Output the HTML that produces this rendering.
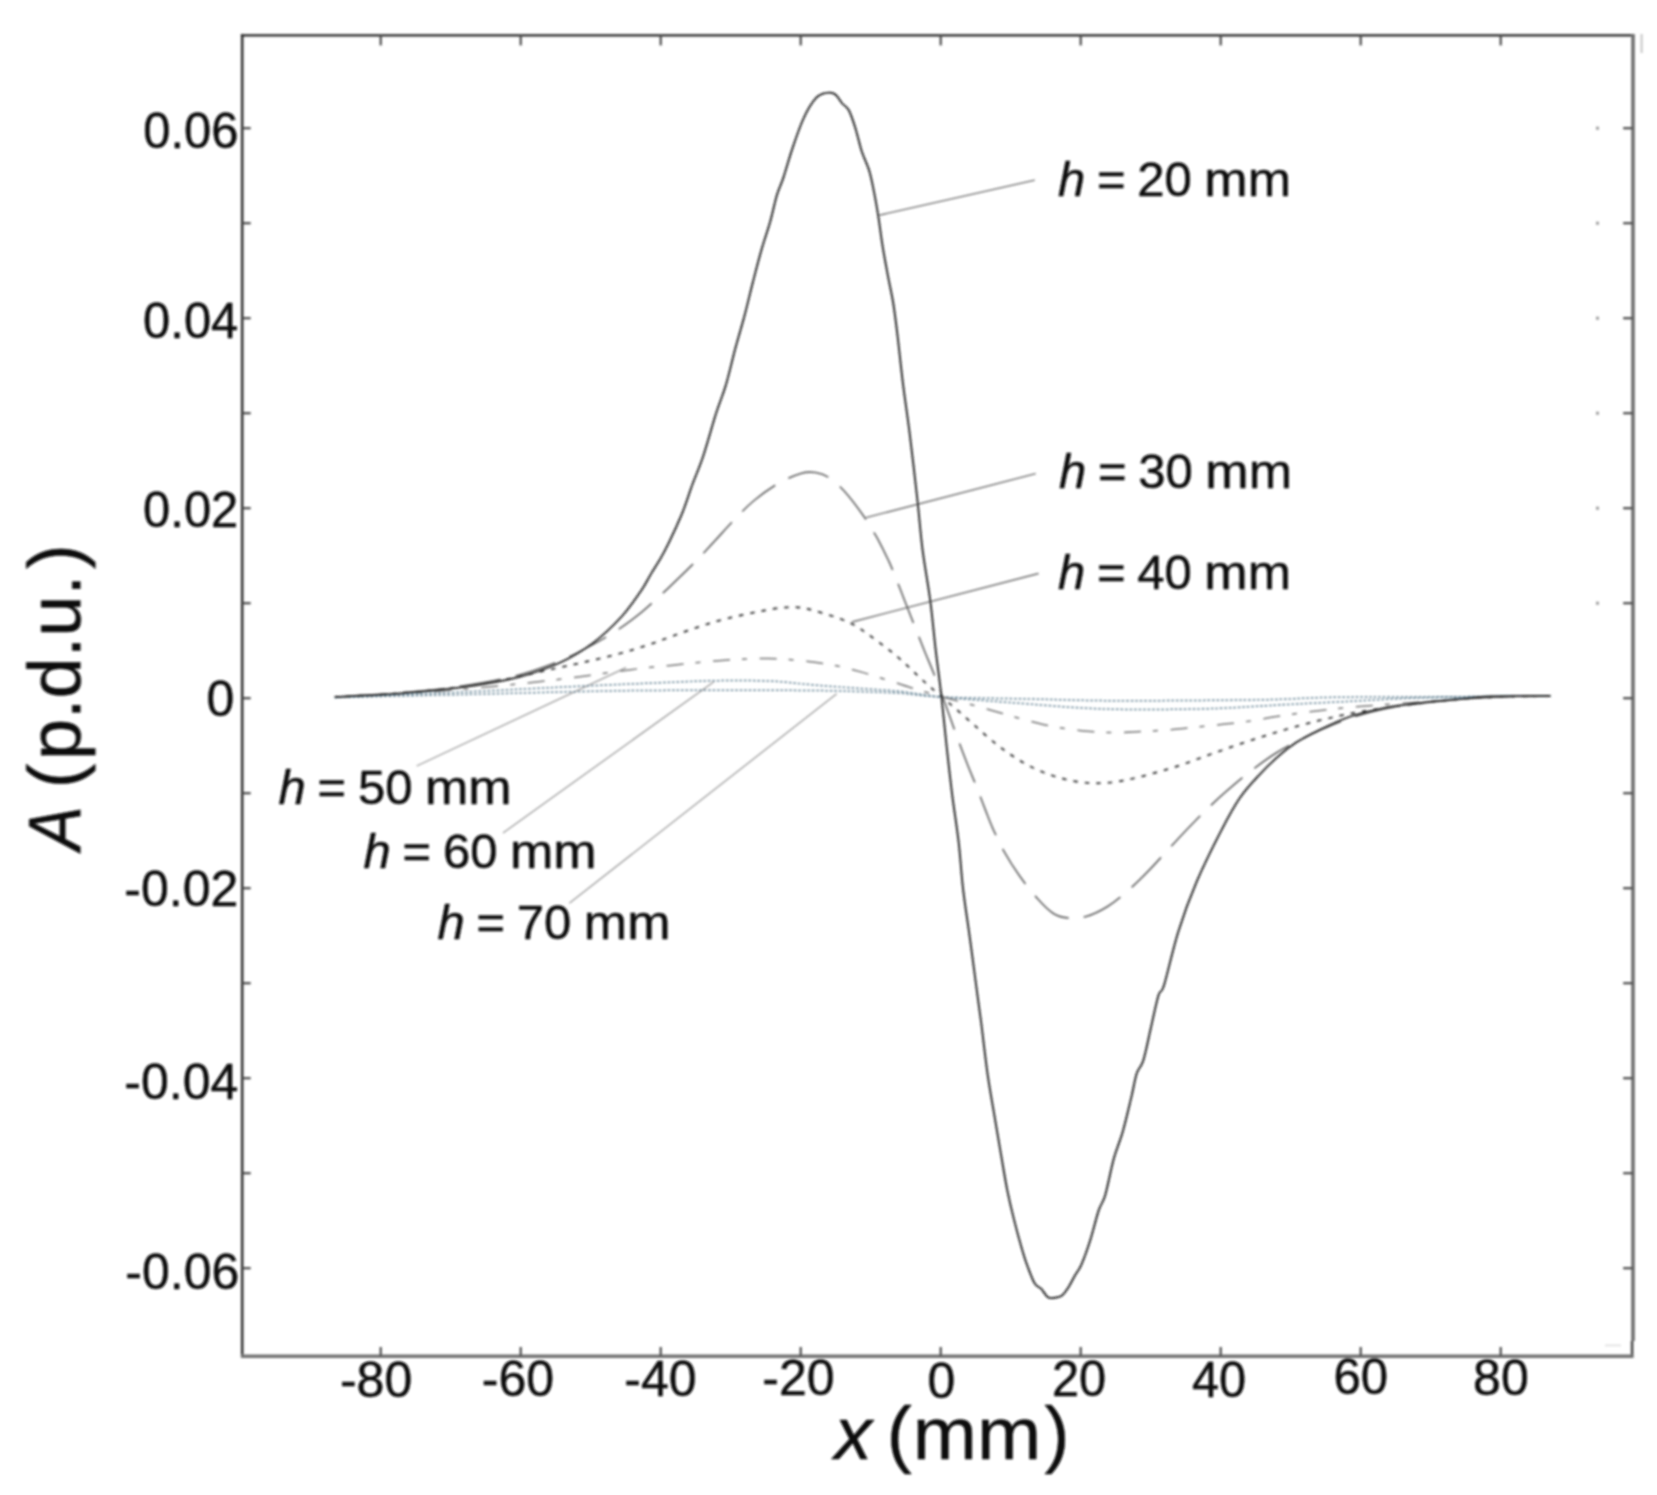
<!DOCTYPE html>
<html lang="en"><head><meta charset="utf-8"><title>A (p.d.u.) versus x (mm)</title>
<style>
html,body{margin:0;padding:0;background:#fff;}
body{width:1657px;height:1495px;overflow:hidden;}
svg{display:block;}
text{font-family:"Liberation Sans",Arial,Helvetica,sans-serif;fill:#101010;stroke:#101010;stroke-width:0.5px;stroke-linejoin:round;}
.tick{font-size:50px;}
.ann{font-size:49px;}
.axl{font-size:75px;}
.ayl{font-size:74px;}
.it{font-style:italic;}
</style></head><body>
<svg width="1657" height="1495" viewBox="0 0 1657 1495">
<defs><filter id="soft" x="-2%" y="-2%" width="104%" height="104%"><feGaussianBlur stdDeviation="0.9"/></filter></defs>
<rect x="0" y="0" width="1657" height="1495" fill="#ffffff"/>
<g filter="url(#soft)">
<g fill="#9c9c9c">
<rect x="1596" y="126.7" width="3" height="3"/>
<rect x="1596" y="221.7" width="3" height="3"/>
<rect x="1596" y="316.7" width="3" height="3"/>
<rect x="1596" y="411.7" width="3" height="3"/>
<rect x="1596" y="506.7" width="3" height="3"/>
<rect x="1596" y="601.7" width="3" height="3"/>
</g>
<line x1="1641.6" y1="34" x2="1641.6" y2="53" stroke="#c4c4c4" stroke-width="2"/>
<line x1="1605" y1="1345.4" x2="1621" y2="1345.4" stroke="#e4e4e4" stroke-width="2"/>
<g fill="none">
<line x1="242.2" y1="34.2" x2="242.2" y2="1357.5" stroke="#333333" stroke-width="2.6"/>
<line x1="240.9" y1="35.4" x2="1634.3" y2="35.4" stroke="#242424" stroke-width="2.4"/>
<line x1="1633.0" y1="34.2" x2="1633.0" y2="1341.0" stroke="#6e6e6e" stroke-width="3.6"/>
<line x1="1632.1" y1="1341.0" x2="1632.1" y2="1357.5" stroke="#4a4a4a" stroke-width="2.6"/>
<line x1="240.9" y1="1356.2" x2="1633.4" y2="1356.2" stroke="#727272" stroke-width="3.4"/>
</g>
<g stroke="#4a4a4a" stroke-width="2.2">
<line x1="380.7" y1="35.4" x2="380.7" y2="45.4"/>
<line x1="380.7" y1="1356.0" x2="380.7" y2="1347.0"/>
<line x1="520.7" y1="35.4" x2="520.7" y2="45.4"/>
<line x1="520.7" y1="1356.0" x2="520.7" y2="1347.0"/>
<line x1="660.7" y1="35.4" x2="660.7" y2="45.4"/>
<line x1="660.7" y1="1356.0" x2="660.7" y2="1347.0"/>
<line x1="800.7" y1="35.4" x2="800.7" y2="45.4"/>
<line x1="800.7" y1="1356.0" x2="800.7" y2="1347.0"/>
<line x1="940.7" y1="35.4" x2="940.7" y2="45.4"/>
<line x1="940.7" y1="1356.0" x2="940.7" y2="1347.0"/>
<line x1="1080.7" y1="35.4" x2="1080.7" y2="45.4"/>
<line x1="1080.7" y1="1356.0" x2="1080.7" y2="1347.0"/>
<line x1="1220.7" y1="35.4" x2="1220.7" y2="45.4"/>
<line x1="1220.7" y1="1356.0" x2="1220.7" y2="1347.0"/>
<line x1="1360.7" y1="35.4" x2="1360.7" y2="45.4"/>
<line x1="1360.7" y1="1356.0" x2="1360.7" y2="1347.0"/>
<line x1="1500.7" y1="35.4" x2="1500.7" y2="45.4"/>
<line x1="1500.7" y1="1356.0" x2="1500.7" y2="1347.0"/>
<line x1="242.2" y1="128.2" x2="250.7" y2="128.2"/>
<line x1="1632.7" y1="128.2" x2="1623.2" y2="128.2"/>
<line x1="242.2" y1="223.2" x2="250.7" y2="223.2"/>
<line x1="1632.7" y1="223.2" x2="1623.2" y2="223.2"/>
<line x1="242.2" y1="318.2" x2="250.7" y2="318.2"/>
<line x1="1632.7" y1="318.2" x2="1623.2" y2="318.2"/>
<line x1="242.2" y1="413.2" x2="250.7" y2="413.2"/>
<line x1="1632.7" y1="413.2" x2="1623.2" y2="413.2"/>
<line x1="242.2" y1="508.2" x2="250.7" y2="508.2"/>
<line x1="1632.7" y1="508.2" x2="1623.2" y2="508.2"/>
<line x1="242.2" y1="603.2" x2="250.7" y2="603.2"/>
<line x1="1632.7" y1="603.2" x2="1623.2" y2="603.2"/>
<line x1="242.2" y1="698.2" x2="250.7" y2="698.2"/>
<line x1="1632.7" y1="698.2" x2="1623.2" y2="698.2"/>
<line x1="242.2" y1="793.2" x2="250.7" y2="793.2"/>
<line x1="1632.7" y1="793.2" x2="1623.2" y2="793.2"/>
<line x1="242.2" y1="888.2" x2="250.7" y2="888.2"/>
<line x1="1632.7" y1="888.2" x2="1623.2" y2="888.2"/>
<line x1="242.2" y1="983.2" x2="250.7" y2="983.2"/>
<line x1="1632.7" y1="983.2" x2="1623.2" y2="983.2"/>
<line x1="242.2" y1="1078.2" x2="250.7" y2="1078.2"/>
<line x1="1632.7" y1="1078.2" x2="1623.2" y2="1078.2"/>
<line x1="242.2" y1="1173.2" x2="250.7" y2="1173.2"/>
<line x1="1632.7" y1="1173.2" x2="1623.2" y2="1173.2"/>
<line x1="242.2" y1="1268.2" x2="250.7" y2="1268.2"/>
<line x1="1632.7" y1="1268.2" x2="1623.2" y2="1268.2"/>
</g>
<g stroke="#6c6c6c" stroke-width="1.3" fill="none">
<line x1="878.5" y1="215.4" x2="1034.8" y2="180.2"/>
<line x1="866.1" y1="517.6" x2="1035.7" y2="473.7"/>
<line x1="852" y1="622" x2="1038.6" y2="573.5"/>
</g>
<g stroke="#9a9a9a" stroke-width="1.25" fill="none">
<line x1="626" y1="667.6" x2="416.7" y2="766"/>
<line x1="713.9" y1="681.7" x2="503" y2="832.9"/>
<line x1="836.7" y1="693.7" x2="569.3" y2="903.3"/>
</g>
<g fill="none" stroke-linejoin="round">
<path d="M334.8 697.5C356.2 697.0 421.7 695.5 463.0 694.5C504.3 693.5 550.0 692.2 582.6 691.5C615.2 690.8 622.5 690.6 658.7 690.4C694.9 690.2 766.9 690.2 800.0 690.4C833.1 690.6 840.6 691.0 857.4 691.5C874.2 692.0 886.9 692.4 900.9 693.3C914.9 694.2 919.8 696.0 941.3 697.0C962.8 698.0 1000.7 698.4 1030.0 699.0C1059.3 699.6 1078.7 700.6 1117.0 700.7C1155.3 700.8 1224.7 700.3 1260.0 699.8C1295.3 699.2 1302.8 697.9 1328.7 697.4C1354.7 696.9 1378.8 697.2 1415.7 697.0C1452.7 696.8 1528.0 696.1 1550.4 695.9" stroke="#5f7f91" stroke-width="1.5" stroke-dasharray="2.5 2"/>
<path d="M334.8 697.5C356.2 696.6 421.7 693.9 463.0 692.0C504.3 690.1 550.0 687.6 582.6 686.1C615.2 684.6 636.5 683.7 658.7 682.8C680.9 681.9 697.4 681.0 716.0 680.7C734.6 680.4 754.1 680.4 770.4 681.1C786.7 681.8 799.4 683.8 813.9 685.0C828.4 686.2 842.9 687.2 857.4 688.3C871.9 689.4 886.9 690.0 900.9 691.5C914.9 693.0 923.3 695.2 941.3 697.0C959.3 698.8 981.9 700.4 1008.7 702.4C1035.5 704.4 1070.3 707.8 1102.2 708.9C1134.1 710.0 1173.7 709.4 1200.0 708.9C1226.3 708.4 1245.8 706.8 1260.0 706.1C1274.2 705.4 1270.1 705.4 1285.2 704.6C1300.3 703.8 1328.7 702.4 1350.4 701.3C1372.2 700.2 1392.2 698.8 1415.7 698.0C1439.2 697.2 1469.2 696.9 1491.7 696.5C1514.2 696.1 1540.6 696.0 1550.4 695.9" stroke="#5f7f91" stroke-width="1.5" stroke-dasharray="2.5 2"/>
<path d="M334.8 697.0C345.4 696.5 377.0 695.2 398.4 693.9C419.7 692.6 441.8 690.9 463.0 689.1C484.2 687.3 506.1 685.2 525.5 683.1C545.0 681.1 563.9 678.8 579.9 676.8C595.8 674.7 609.6 672.5 621.4 670.9C633.2 669.3 641.7 668.3 650.6 667.3C659.6 666.4 666.8 665.9 674.8 665.0C682.8 664.2 690.6 663.2 698.4 662.5C706.3 661.7 714.0 661.0 721.8 660.4C729.6 659.8 737.4 659.3 745.2 659.0C752.9 658.7 760.6 658.3 768.3 658.4C776.0 658.5 783.6 659.1 791.4 659.7C799.1 660.3 807.0 661.2 814.7 662.2C822.5 663.3 829.9 664.4 837.8 666.0C845.8 667.7 854.0 670.0 862.6 672.4C871.2 674.9 880.6 677.9 889.5 680.7C898.3 683.4 906.3 686.3 915.5 689.1C924.7 691.9 934.5 694.7 944.6 697.5C954.7 700.3 966.6 703.3 976.0 705.9C985.4 708.5 993.2 710.8 1000.8 713.0C1008.4 715.2 1014.5 717.0 1021.7 719.0C1028.9 720.9 1036.5 723.0 1044.0 724.7C1051.6 726.3 1059.4 727.8 1067.1 728.9C1074.9 730.1 1082.7 730.9 1090.5 731.5C1098.3 732.1 1106.1 732.6 1113.8 732.6C1121.6 732.6 1129.3 732.2 1137.0 731.8C1144.7 731.4 1152.3 731.0 1160.1 730.4C1167.8 729.9 1175.6 729.3 1183.4 728.5C1191.2 727.8 1199.0 726.7 1206.8 725.9C1214.6 725.1 1222.5 724.5 1230.2 723.6C1238.0 722.7 1245.9 721.7 1253.6 720.5C1261.3 719.3 1268.8 717.8 1276.5 716.6C1284.2 715.4 1291.8 714.2 1299.6 713.2C1307.3 712.1 1315.2 711.1 1323.0 710.2C1330.8 709.3 1337.4 708.4 1346.1 707.6C1354.8 706.8 1363.4 706.2 1374.9 705.3C1386.4 704.5 1401.3 703.5 1414.8 702.4C1428.4 701.4 1442.5 700.2 1456.4 699.3C1470.3 698.4 1482.6 697.6 1498.2 697.0C1513.9 696.4 1541.7 696.1 1550.4 695.9" stroke="#777777" stroke-width="1.5" stroke-dasharray="17 12 5 12.7" stroke-dashoffset="-6.5"/>
<path d="M334.8 697.0C345.4 696.4 377.4 694.9 398.4 693.2C419.3 691.6 441.8 689.4 460.3 687.0C478.8 684.6 495.2 681.4 509.2 678.7C523.2 676.0 532.5 673.4 544.5 670.8C556.5 668.1 569.2 665.5 581.5 662.8C593.7 660.0 607.4 656.9 618.1 654.0C628.9 651.2 637.4 648.4 646.0 645.6C654.6 642.8 661.8 640.0 669.6 637.2C677.4 634.4 685.2 631.4 693.0 628.8C700.7 626.1 708.5 623.6 716.1 621.4C723.8 619.2 731.3 617.4 738.9 615.7C746.5 614.0 754.4 612.4 761.5 611.1C768.5 609.8 775.5 608.4 781.3 607.8C787.1 607.2 791.9 607.0 796.5 607.2C801.1 607.5 804.5 608.2 809.0 609.2C813.5 610.2 818.3 611.7 823.4 613.3C828.6 614.9 834.9 616.8 840.0 618.7C845.1 620.6 849.4 622.3 854.1 624.9C858.8 627.5 863.3 631.0 868.3 634.5C873.2 637.9 879.0 642.3 883.8 645.9C888.5 649.5 892.7 652.8 896.8 656.2C900.9 659.7 904.5 663.1 908.2 666.5C911.9 670.0 915.5 673.5 919.0 676.9C922.6 680.2 926.0 683.3 929.6 686.5C933.3 689.8 936.7 692.6 940.9 696.2C945.1 699.8 949.4 703.3 954.9 708.0C960.3 712.7 966.8 718.7 973.4 724.4C979.9 730.1 987.0 736.8 994.0 742.3C1001.0 747.9 1008.1 753.2 1015.5 757.8C1022.8 762.5 1030.4 766.7 1038.0 770.1C1045.6 773.5 1053.4 776.1 1061.2 778.2C1068.9 780.3 1076.8 781.8 1084.5 782.6C1092.3 783.3 1099.9 783.4 1107.6 782.8C1115.3 782.2 1122.9 780.7 1130.7 779.0C1138.5 777.4 1146.4 775.2 1154.3 773.0C1162.2 770.8 1170.2 768.5 1178.0 766.0C1185.8 763.4 1193.4 760.6 1201.1 757.8C1208.8 755.0 1216.5 752.1 1224.2 749.4C1231.9 746.7 1239.7 744.0 1247.4 741.5C1255.0 739.0 1262.5 736.5 1270.2 734.2C1277.8 731.8 1285.3 729.6 1293.1 727.4C1300.8 725.2 1309.0 723.1 1316.7 721.1C1324.5 719.2 1332.1 717.4 1339.5 715.8C1347.0 714.2 1353.6 712.9 1361.5 711.5C1369.3 710.2 1376.9 709.0 1386.5 707.6C1396.1 706.3 1407.3 704.8 1418.9 703.5C1430.6 702.1 1443.2 700.6 1456.4 699.5C1469.6 698.5 1482.6 697.6 1498.2 697.0C1513.9 696.4 1541.7 696.1 1550.4 695.9" stroke="#404040" stroke-width="1.9" stroke-dasharray="4.5 7"/>
<path d="M334.8 697.0C345.4 696.3 377.4 694.7 398.4 692.9C419.3 691.1 440.9 689.2 460.3 686.4C479.7 683.6 498.4 680.3 514.7 676.1C531.0 672.0 545.2 666.8 558.2 661.6C571.1 656.4 582.2 650.2 592.4 644.8C602.6 639.3 611.0 634.3 619.2 628.8C627.5 623.3 633.9 618.5 642.0 611.9C650.0 605.2 659.1 596.6 667.5 588.8C675.8 580.9 684.7 572.4 692.2 564.9C699.7 557.3 705.7 550.7 712.5 543.4C719.4 536.1 726.3 528.0 733.2 520.9C740.1 513.7 746.6 506.7 754.1 500.5C761.6 494.3 770.5 487.9 778.3 483.4C786.1 478.9 794.6 475.2 800.9 473.4C807.1 471.5 811.0 471.9 815.5 472.5C820.1 473.2 823.5 474.0 828.3 477.1C833.1 480.2 838.7 485.1 844.4 491.2C850.0 497.4 856.6 506.1 862.0 513.8C867.5 521.5 872.4 529.6 877.0 537.7C881.5 545.9 885.9 554.9 889.5 562.7C893.0 570.5 895.6 577.4 898.4 584.5C901.2 591.5 903.5 597.6 906.3 604.8C909.1 612.0 912.3 620.2 915.3 627.6C918.2 635.1 920.9 642.1 924.0 649.7C927.0 657.3 930.2 664.4 933.7 673.3C937.2 682.3 941.1 692.8 945.0 703.3C948.8 713.7 953.1 726.1 956.8 736.1C960.4 746.2 963.8 755.1 967.1 763.5C970.4 772.0 973.7 779.6 976.6 786.9C979.5 794.2 981.7 800.5 984.5 807.6C987.3 814.6 989.8 821.7 993.2 829.3C996.6 836.9 1000.5 845.2 1004.9 852.9C1009.2 860.6 1013.9 867.9 1019.3 875.5C1024.7 883.1 1031.6 892.0 1037.2 898.3C1042.8 904.6 1047.9 910.0 1053.0 913.2C1058.1 916.5 1062.1 917.3 1067.7 917.9C1073.2 918.4 1079.5 918.4 1086.2 916.5C1092.8 914.6 1100.5 910.9 1107.6 906.5C1114.7 902.0 1121.9 896.0 1128.8 889.9C1135.7 883.8 1142.4 877.1 1149.2 870.1C1156.0 863.0 1163.0 855.2 1169.8 847.8C1176.7 840.4 1183.5 833.0 1190.5 825.8C1197.5 818.5 1204.8 811.1 1212.0 804.3C1219.2 797.5 1226.4 791.0 1233.8 784.8C1241.2 778.5 1249.2 772.2 1256.3 766.8C1263.4 761.5 1269.9 756.8 1276.5 752.7C1283.1 748.5 1288.7 745.8 1296.1 742.1C1303.4 738.3 1311.4 734.2 1320.5 730.1C1329.7 726.1 1340.4 721.4 1351.0 717.9C1361.5 714.3 1372.8 711.3 1384.1 708.9C1395.5 706.5 1406.9 705.0 1418.9 703.5C1431.0 701.9 1443.2 700.6 1456.4 699.5C1469.6 698.5 1482.6 697.6 1498.2 697.0C1513.9 696.4 1541.7 696.1 1550.4 695.9" stroke="#606060" stroke-width="1.6" stroke-dasharray="42 15" stroke-dashoffset="-11"/>
<path d="M334.8 697.0C345.3 696.5 376.4 695.3 397.8 693.7C419.2 692.1 443.1 689.9 463.0 687.2C482.9 684.5 501.1 681.6 517.4 677.4C533.7 673.2 548.2 668.0 560.9 662.2C573.6 656.4 583.4 650.2 593.5 642.6C603.6 635.0 613.7 625.2 621.7 616.5C629.7 607.8 636.4 597.5 641.3 590.4C646.2 583.3 647.1 580.4 650.9 574.1C654.7 567.8 658.8 562.2 663.9 552.4C669.0 542.6 676.6 526.6 681.3 515.4C686.0 504.2 688.6 494.8 692.2 485.0C695.8 475.2 699.0 468.6 703.0 456.7C707.0 444.8 712.3 425.2 716.1 413.3C719.9 401.4 722.6 396.1 725.9 385.0C729.2 373.9 732.6 358.4 735.7 347.0C738.8 335.6 741.4 327.4 744.3 316.5C747.2 305.6 750.1 292.9 753.0 281.7C755.9 270.5 758.8 259.2 761.7 249.1C764.6 239.0 767.9 229.9 770.4 220.9C772.9 211.9 774.8 202.1 777.0 194.8C779.2 187.6 781.0 185.0 783.5 177.4C786.0 169.8 789.1 158.3 792.2 149.1C795.3 139.9 799.1 129.1 802.0 122.0C804.9 114.9 806.9 111.0 809.6 106.7C812.3 102.4 815.0 98.2 818.3 95.9C821.5 93.6 826.2 92.8 829.1 92.6C832.0 92.4 833.5 93.0 835.7 94.8C837.9 96.6 840.0 101.0 842.2 103.5C844.4 106.0 846.5 106.0 848.7 110.0C850.9 114.0 853.0 120.5 855.2 127.4C857.4 134.3 859.4 144.1 861.7 151.3C864.1 158.6 867.3 164.4 869.3 170.9C871.3 177.4 872.2 183.2 873.7 190.4C875.2 197.6 876.5 205.2 878.0 214.3C879.5 223.4 880.8 234.7 882.4 244.8C884.0 255.0 886.0 265.4 887.8 275.2C889.6 285.0 891.7 293.4 893.3 303.5C894.9 313.6 896.0 322.7 897.6 336.1C899.2 349.5 901.0 367.8 903.0 383.9C905.0 400.0 907.2 413.8 909.6 432.8C912.0 451.8 915.0 478.4 917.2 498.0C919.4 517.6 920.4 533.2 922.6 550.2C924.8 567.2 928.0 583.5 930.2 600.2C932.4 616.9 933.9 634.6 935.7 650.2C937.5 665.8 939.3 677.6 941.1 693.7C942.9 709.8 944.9 730.1 946.7 747.0C948.6 763.9 950.2 778.9 952.2 794.8C954.2 810.7 956.9 827.0 958.7 842.6C960.5 858.2 961.2 872.7 963.0 888.3C964.8 903.9 967.4 920.0 969.6 936.1C971.8 952.2 974.2 970.4 976.1 985.0C978.0 999.6 979.3 1008.4 981.3 1023.5C983.2 1038.6 985.6 1060.5 987.8 1075.7C990.0 1090.9 992.1 1101.8 994.3 1114.8C996.5 1127.8 998.7 1141.2 1000.9 1153.9C1003.1 1166.6 1005.2 1180.0 1007.4 1190.9C1009.6 1201.8 1011.5 1209.7 1013.9 1219.1C1016.2 1228.5 1019.3 1239.8 1021.5 1247.4C1023.7 1255.0 1024.8 1258.8 1027.0 1264.8C1029.2 1270.8 1032.2 1279.3 1034.6 1283.3C1036.9 1287.3 1038.9 1286.4 1041.1 1288.7C1043.3 1291.0 1045.6 1295.5 1047.6 1297.0C1049.6 1298.5 1050.7 1298.2 1053.0 1298.0C1055.3 1297.8 1059.2 1297.4 1061.7 1295.7C1064.2 1294.0 1066.1 1290.9 1068.3 1287.6C1070.5 1284.3 1072.6 1279.5 1074.8 1275.7C1077.0 1271.9 1078.8 1270.6 1081.3 1264.8C1083.8 1259.0 1087.1 1250.0 1090.0 1240.9C1092.9 1231.8 1096.2 1218.0 1098.7 1210.4C1101.2 1202.8 1102.7 1203.9 1105.2 1195.2C1107.7 1186.5 1111.0 1168.8 1113.9 1158.3C1116.8 1147.8 1119.7 1142.3 1122.6 1132.2C1125.5 1122.1 1128.9 1107.2 1131.3 1097.4C1133.7 1087.6 1134.7 1079.7 1136.7 1073.5C1138.7 1067.3 1140.9 1068.0 1143.3 1060.4C1145.7 1052.8 1148.4 1038.7 1150.9 1027.8C1153.4 1016.9 1156.3 1002.3 1158.5 995.2C1160.7 988.1 1160.8 995.6 1164.1 985.0C1167.4 974.4 1172.9 948.9 1178.3 931.7C1183.7 914.5 1189.6 898.4 1196.7 881.7C1203.8 865.0 1213.6 845.5 1220.7 831.7C1227.8 817.9 1233.0 808.2 1239.1 799.1C1245.1 790.0 1250.8 784.3 1257.0 777.4C1263.2 770.5 1270.0 763.6 1276.5 757.8C1283.0 752.0 1289.2 747.1 1296.1 742.6C1303.0 738.1 1308.8 735.1 1317.8 730.7C1326.8 726.4 1339.2 720.3 1350.4 716.5C1361.6 712.7 1374.3 710.0 1385.2 707.8C1396.1 705.6 1403.4 705.0 1415.7 703.5C1428.0 702.0 1446.4 700.3 1459.1 699.1C1471.8 697.9 1476.5 697.0 1491.7 696.5C1506.9 696.0 1540.6 696.0 1550.4 695.9" stroke="#1c1c1c" stroke-width="1.8"/>
</g>
<text class="tick" x="238.5" y="148.1" text-anchor="end" textLength="95.2" lengthAdjust="spacingAndGlyphs">0.06</text>
<text class="tick" x="238.3" y="338.1" text-anchor="end" textLength="95.2" lengthAdjust="spacingAndGlyphs">0.04</text>
<text class="tick" x="238.3" y="527.4" text-anchor="end" textLength="95.2" lengthAdjust="spacingAndGlyphs">0.02</text>
<text class="tick" x="234.3" y="715.6" text-anchor="end">0</text>
<text class="tick" x="238.3" y="905.5" text-anchor="end">-0.02</text>
<text class="tick" x="238.3" y="1098.9" text-anchor="end">-0.04</text>
<text class="tick" x="239.3" y="1288.9" text-anchor="end">-0.06</text>
<text class="tick" x="376.1" y="1396.8" text-anchor="middle">-80</text>
<text class="tick" x="518.0" y="1396.4" text-anchor="middle">-60</text>
<text class="tick" x="660.4" y="1395.9" text-anchor="middle">-40</text>
<text class="tick" x="798.5" y="1394.6" text-anchor="middle">-20</text>
<text class="tick" x="941.3" y="1397.5" text-anchor="middle">0</text>
<text class="tick" x="1079.0" y="1396.3" text-anchor="middle" textLength="54.2" lengthAdjust="spacingAndGlyphs">20</text>
<text class="tick" x="1219.0" y="1396.7" text-anchor="middle" textLength="54.2" lengthAdjust="spacingAndGlyphs">40</text>
<text class="tick" x="1360.7" y="1393.9" text-anchor="middle" textLength="54.6" lengthAdjust="spacingAndGlyphs">60</text>
<text class="tick" x="1500.9" y="1395.4" text-anchor="middle">80</text>
<text class="ann" x="1057.9" y="195.7"><tspan class="it">h</tspan> <tspan x="1096.9">=</tspan> <tspan x="1137.3">20</tspan> <tspan x="1204.3" textLength="86.7" lengthAdjust="spacingAndGlyphs">mm</tspan></text>
<text class="ann" x="1058.9" y="487.6"><tspan class="it">h</tspan> <tspan x="1097.9">=</tspan> <tspan x="1138.3">30</tspan> <tspan x="1205.3" textLength="86.7" lengthAdjust="spacingAndGlyphs">mm</tspan></text>
<text class="ann" x="1057.9" y="588.6"><tspan class="it">h</tspan> <tspan x="1096.9">=</tspan> <tspan x="1137.3">40</tspan> <tspan x="1204.3" textLength="86.7" lengthAdjust="spacingAndGlyphs">mm</tspan></text>
<text class="ann" x="278.6" y="804.3"><tspan class="it">h</tspan> <tspan x="317.6">=</tspan> <tspan x="358.0">50</tspan> <tspan x="425.0" textLength="86.7" lengthAdjust="spacingAndGlyphs">mm</tspan></text>
<text class="ann" x="363.6" y="867.5"><tspan class="it">h</tspan> <tspan x="402.6">=</tspan> <tspan x="443.0">60</tspan> <tspan x="510.0" textLength="86.7" lengthAdjust="spacingAndGlyphs">mm</tspan></text>
<text class="ann" x="437.4" y="938.6"><tspan class="it">h</tspan> <tspan x="476.4">=</tspan> <tspan x="516.8">70</tspan> <tspan x="583.8" textLength="86.7" lengthAdjust="spacingAndGlyphs">mm</tspan></text>
<text class="axl" x="834.6" y="1459"><tspan class="it">x</tspan> <tspan x="886.8">(</tspan><tspan x="912.7" textLength="128.4" lengthAdjust="spacingAndGlyphs">mm</tspan><tspan x="1044.5">)</tspan></text>
<text class="ayl" transform="translate(80.3 698) rotate(-90)"><tspan class="it" x="-152.2" textLength="44" lengthAdjust="spacingAndGlyphs">A</tspan> <tspan x="-90.2">(</tspan><tspan x="-62.1">p.d.u.</tspan><tspan x="128.9">)</tspan></text>
</g>
</svg>
</body></html>
